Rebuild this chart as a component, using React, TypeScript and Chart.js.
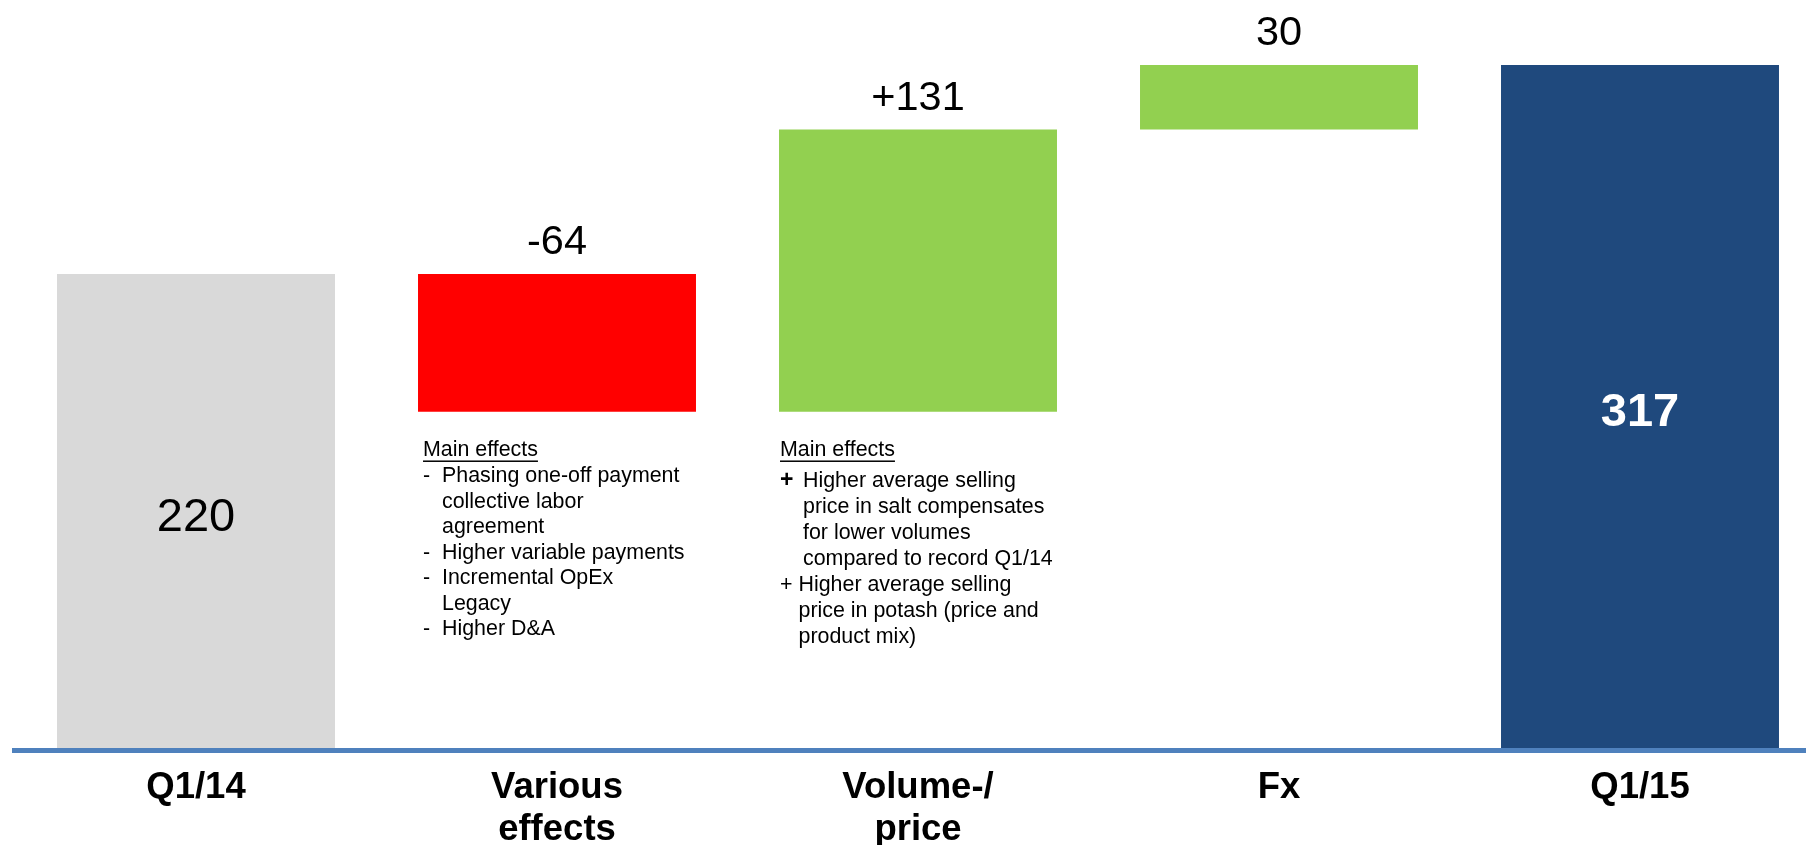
import React, { useEffect, useRef } from "react";
import { Chart, registerables } from "chart.js";

Chart.register(...registerables);

// ---- data ----
const categories: string[] = ["Q1/14", "Various\neffects", "Volume-/\nprice", "Fx", "Q1/15"];
const startValue = 220;
const deltas: number[] = [-64, 131, 30];
const endValue = 317;
const valueLabels: string[] = ["220", "-64", "+131", "30", "317"];
const barColors: string[] = ["#D9D9D9", "#FF0000", "#92D050", "#92D050", "#1F497D"];
const yMax = 340;

const variousEffects: { marker: string; text: string }[] = [
  { marker: "-", text: "Phasing one-off payment" },
  { marker: "", text: "collective labor" },
  { marker: "", text: "agreement" },
  { marker: "-", text: "Higher variable payments" },
  { marker: "-", text: "Incremental OpEx" },
  { marker: "", text: "Legacy" },
  { marker: "-", text: "Higher D&A" },
];
const volumeEffects: { marker: string; text: string }[] = [
  { marker: "+", text: "Higher average selling" },
  { marker: "", text: "price in salt compensates" },
  { marker: "", text: "for lower volumes" },
  { marker: "", text: "compared to record Q1/14" },
  { marker: "+", text: "Higher average selling" },
  { marker: "", text: "price in potash (price and" },
  { marker: "", text: "product mix)" },
];
const effectsTitle = "Main effects";

function buildRanges(): [number, number][] {
  const out: [number, number][] = [[0, startValue]];
  let running = startValue;
  for (const d of deltas) {
    const next = running + d;
    out.push([Math.min(running, next), Math.max(running, next)]);
    running = next;
  }
  out.push([0, endValue]);
  return out;
}

const FONT = '"Liberation Sans", Arial, Helvetica, sans-serif';
const VIEW_W = 1806;
const CANVAS_W = 1821;
const CANVAS_H = 845;

const overlayPlugin = {
  id: "waterfallOverlay",
  afterDatasetsDraw(chart: any) {
    const ctx: CanvasRenderingContext2D = chart.ctx;
    const xs = chart.scales.x;
    const ys = chart.scales.y;
    const meta = chart.getDatasetMeta(0);
    const yZero = ys.getPixelForValue(0);
    ctx.save();

    // axis line
    ctx.fillStyle = "#4F81BD";
    ctx.fillRect(12, yZero, chart.width, 5);

    // category labels
    ctx.fillStyle = "#000000";
    ctx.textAlign = "center";
    ctx.textBaseline = "alphabetic";
    ctx.font = `bold 36.5px ${FONT}`;
    categories.forEach((c, i) => {
      const cx = xs.getPixelForValue(i);
      c.split("\n").forEach((line, li) => {
        ctx.fillText(line, cx, yZero + 50 + li * 42);
      });
    });

    // value labels
    meta.data.forEach((bar: any, i: number) => {
      const props = bar.getProps(["x", "y", "base", "width"], true);
      const top = Math.min(props.y, props.base);
      const bottom = Math.max(props.y, props.base);
      const isTotal = i === 0 || i === meta.data.length - 1;
      if (isTotal) {
        const cy = (top + bottom) / 2 + 20;
        if (i === 0) {
          ctx.font = `47px ${FONT}`;
          ctx.fillStyle = "#000000";
        } else {
          ctx.font = `bold 47px ${FONT}`;
          ctx.fillStyle = "#FFFFFF";
        }
        ctx.fillText(valueLabels[i], props.x, cy);
      } else {
        ctx.font = `41.5px ${FONT}`;
        ctx.fillStyle = "#000000";
        ctx.fillText(valueLabels[i], props.x, top - 20);
      }
    });

    // annotations
    const drawBlock = (
      barIndex: number,
      lines: { marker: string; text: string }[],
      headerDx: number,
      firstGap: number,
      lineGap: number,
      textDx: (idx: number) => number,
      boldPlusFirst: boolean
    ) => {
      const bar: any = meta.data[barIndex];
      const p = bar.getProps(["x", "y", "base", "width"], true);
      const left = p.x - p.width / 2;
      const bottom = Math.max(p.y, p.base);
      ctx.textAlign = "left";
      ctx.textBaseline = "middle";
      ctx.fillStyle = "#000000";
      ctx.font = `21.4px ${FONT}`;
      const hx = left + headerDx;
      const hy = bottom + 38.6;
      ctx.fillText(effectsTitle, hx, hy);
      const w = ctx.measureText(effectsTitle).width;
      ctx.fillRect(hx, hy + 10, w, 1.5);
      let y = hy + firstGap;
      let markerCount = 0;
      lines.forEach((ln, idx) => {
        if (ln.marker) {
          if (ln.marker === "+" && boldPlusFirst && markerCount === 0) {
            ctx.font = `bold 23px ${FONT}`;
          } else {
            ctx.font = `21.4px ${FONT}`;
          }
          ctx.fillText(ln.marker, hx, y);
          markerCount++;
        }
        ctx.font = `21.4px ${FONT}`;
        ctx.fillText(ln.text, left + textDx(idx), y);
        y += lineGap;
      });
    };

    drawBlock(1, variousEffects, 5, 25.8, 25.5, () => 24, false);
    drawBlock(2, volumeEffects, 1, 30.2, 26.0, (idx) => (idx >= 4 ? 19.5 : 24), true);

    ctx.restore();
  },
};

export default function App() {
  const canvasRef = useRef<HTMLCanvasElement | null>(null);

  useEffect(() => {
    document.body.style.margin = "0";
    document.body.style.overflow = "hidden";
    const canvas = canvasRef.current;
    if (!canvas) return;
    const ranges = buildRanges();
    const chart = new Chart(canvas, {
      type: "bar",
      data: {
        labels: categories,
        datasets: [
          {
            data: ranges as any,
            backgroundColor: barColors,
            borderWidth: 0,
            barPercentage: 0.77,
            categoryPercentage: 1.0,
          },
        ],
      },
      options: {
        responsive: false,
        animation: false,
        devicePixelRatio: 1,
        layout: {
          padding: { left: 15.5, right: 0.5, top: 15.4, bottom: 97 },
        },
        scales: {
          x: { display: false },
          y: { display: false, min: 0, max: yMax },
        },
        plugins: {
          legend: { display: false },
          tooltip: { enabled: false },
        },
      },
      plugins: [overlayPlugin],
    });
    return () => chart.destroy();
  }, []);

  return (
    <div style={{ width: VIEW_W, height: CANVAS_H, overflow: "hidden", background: "#FFFFFF" }}>
      <canvas
        ref={canvasRef}
        width={CANVAS_W}
        height={CANVAS_H}
        style={{ display: "block", width: CANVAS_W, height: CANVAS_H }}
      />
    </div>
  );
}
